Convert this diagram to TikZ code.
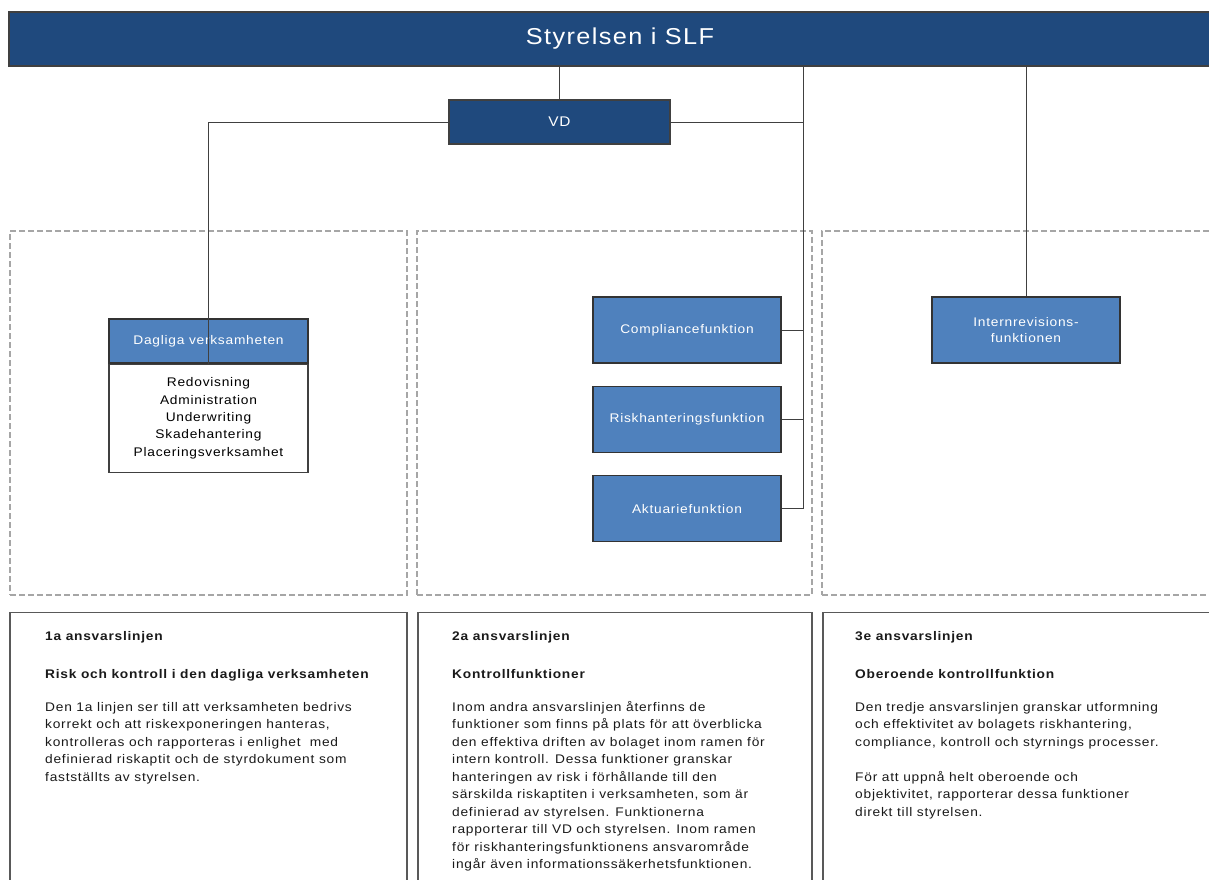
\documentclass[tikz,border=0pt]{standalone}
\usepackage{fontspec}
\setmainfont[FakeStretch=1.1, LetterSpace=6]{Liberation Sans}
\usetikzlibrary{positioning, calc}

\definecolor{navy}{HTML}{1F497D}
\definecolor{boxblue}{HTML}{4F81BD}
\definecolor{dashgray}{HTML}{A6A6A6}
\definecolor{linegray}{HTML}{404040}
\definecolor{txtgray}{HTML}{1A1A1A}

\begin{document}
\begin{tikzpicture}[x=1pt, y=-1pt,
    topbar/.style={draw=black!75, line width=1.2pt, fill=navy, text=white, minimum width=1222pt, minimum height=54pt, inner sep=0pt, font=\fontsize{23}{26}\selectfont},
    darkbox/.style={draw=black!75, line width=1.2pt, fill=navy, text=white, minimum width=221pt, minimum height=44pt, inner sep=0pt, font=\fontsize{14}{17}\selectfont},
    funcbox/.style={draw=black!80, line width=1.3pt, fill=boxblue, text=white, minimum width=188pt, minimum height=66pt, inner sep=0pt, align=center, font=\fontsize{12.5}{16}\selectfont},
    headbox/.style={draw=black!80, line width=1.3pt, fill=boxblue, text=white, minimum width=199pt, minimum height=44pt, inner sep=0pt, font=\fontsize{12.5}{15}\selectfont},
    listbox/.style={draw=black!75, line width=1.3pt, fill=white, minimum width=199pt, minimum height=108pt, inner sep=0pt, align=center, font=\fontsize{12.5}{17.3}\selectfont},
    zone/.style={draw=dashgray, line width=1.2pt, dash pattern=on 6pt off 3pt, minimum height=364pt, inner sep=0pt},
    linebox/.style={draw=black!65, line width=1.4pt, minimum height=283pt, inner sep=0pt},
    bodytext/.style={anchor=north west, inner sep=0pt, align=left, text=txtgray, font=\fontsize{12.5}{17.5}\selectfont},
    conn/.style={draw=linegray, line width=1pt}
]
    \useasboundingbox (0,0) rectangle (1209,879);

    % Dashed zones for the three lines
    \node[zone, minimum width=397pt] (zone1) at (208.5,413) {};
    \node[zone, minimum width=395pt] (zone2) at (614.5,413) {};
    \node[zone, minimum width=403pt] (zone3) at (1023.5,413) {};

    % Board and CEO
    \node[topbar] (bar) at (620,39) {Styrelsen i SLF};
    \node[darkbox] (vd) at (559.5,122) {VD};

    % First line
    \node[headbox] (dagh) at (208.5,341) {Dagliga verksamheten};
    \node[listbox, below=0pt of dagh] (dagb) {Redovisning\\Administration\\Underwriting\\Skadehantering\\Placeringsverksamhet};

    % Second line
    \node[funcbox] (comp) at (687,330) {Compliancefunktion};
    \node[funcbox, below=22pt of comp] (risk) {Riskhanteringsfunktion};
    \node[funcbox, below=22pt of risk] (akt) {Aktuariefunktion};

    % Third line
    \node[funcbox] (intr) at (1026,330) {Internrevisions-\\funktionen};

    % Connectors
    \coordinate (spine) at (803,66);
    \draw[conn] (vd.north) -- (vd.north |- bar.south);
    \draw[conn] (vd.west) -| (dagh.south);
    \draw[conn] (vd.east) -- (vd.east -| spine);
    \draw[conn] (spine) |- (akt.east);
    \draw[conn] (comp.east) -- (comp.east -| spine);
    \draw[conn] (risk.east) -- (risk.east -| spine);
    \draw[conn] (intr.north) -- (intr.north |- bar.south);

    % Text boxes at the bottom
    \node[linebox, minimum width=397pt] (lb1) at (208.5,754) {};
    \node[linebox, minimum width=394pt] (lb2) at (615,754) {};
    \node[linebox, minimum width=403pt] (lb3) at (1024.5,754) {};

    \node[bodytext] (lb1txt) at (45,631) {\textbf{1a ansvarslinjen}\\[21pt]
        \textbf{Risk och kontroll i den dagliga verksamheten}\\[15pt]
        Den 1a linjen ser till att verksamheten bedrivs\\
        korrekt och att riskexponeringen hanteras,\\
        kontrolleras och rapporteras i enlighet\ \ med\\
        definierad riskaptit och de styrdokument som\\
        fastställts av styrelsen.};
    \node[bodytext] (lb2txt) at (452,631) {\textbf{2a ansvarslinjen}\\[21pt]
        \textbf{Kontrollfunktioner}\\[15pt]
        Inom andra ansvarslinjen återfinns de\\
        funktioner som finns på plats för att överblicka\\
        den effektiva driften av bolaget inom ramen för\\
        intern kontroll. Dessa funktioner granskar\\
        hanteringen av risk i förhållande till den\\
        särskilda riskaptiten i verksamheten, som är\\
        definierad av styrelsen. Funktionerna\\
        rapporterar till VD och styrelsen. Inom ramen\\
        för riskhanteringsfunktionens ansvarområde\\
        ingår även informationssäkerhetsfunktionen.};
    \node[bodytext] (lb3txt) at (855,631) {\textbf{3e ansvarslinjen}\\[21pt]
        \textbf{Oberoende kontrollfunktion}\\[15pt]
        Den tredje ansvarslinjen granskar utformning\\
        och effektivitet av bolagets riskhantering,\\
        compliance, kontroll och styrnings processer.\\[17.5pt]
        För att uppnå helt oberoende och\\
        objektivitet, rapporterar dessa funktioner\\
        direkt till styrelsen.};
\end{tikzpicture}
\end{document}
